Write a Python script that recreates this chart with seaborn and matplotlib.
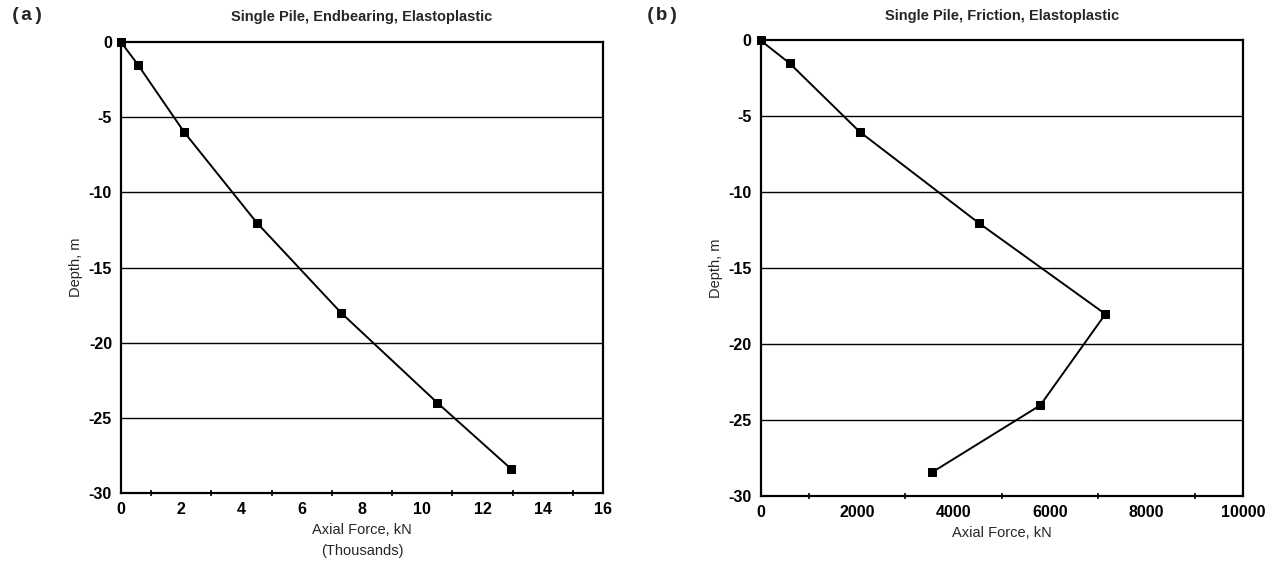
import matplotlib

matplotlib.use("Agg")
import matplotlib.pyplot as plt
import numpy as np
import pandas as pd
import seaborn as sns
from matplotlib.ticker import MultipleLocator

# depth of the sampled pile sections (m)
depth = [0, -1.5, -6, -12, -18, -24, -28.4]

# (a) end bearing pile, axial force in thousands of kN
force_endbearing = [0, 0.56, 2.1, 4.5, 7.3, 10.5, 12.95]
# (b) friction pile, axial force in kN
force_friction = [0, 600, 2050, 4520, 7150, 5800, 3560]

titles = ["Single Pile, Endbearing, Elastoplastic", "Single Pile, Friction, Elastoplastic"]
panel_tags = ["(a)", "(b)"]
xlabels = ["Axial Force, kN\n(Thousands)", "Axial Force, kN"]
y_ticks = [0, -5, -10, -15, -20, -25, -30]

sns.set_theme(style="white")
plt.rcParams["font.family"] = ["Liberation Sans", "DejaVu Sans"]
plt.rcParams["font.weight"] = "bold"
plt.rcParams["axes.unicode_minus"] = False

fig = plt.figure(figsize=(12.77, 5.70), dpi=100)
ax_a = fig.add_axes([0.0948, 0.135, 0.3775, 0.791])
ax_b = fig.add_axes([0.5957, 0.129, 0.3775, 0.800])

frames = [
    pd.DataFrame({"force": force_endbearing, "depth": depth}),
    pd.DataFrame({"force": force_friction, "depth": depth}),
]
xlims = [(0, 16), (0, 10000)]
xmajor = [2, 2000]
xminor = [1, 1000]

for ax, df, title, tag, xlabel, xlim, mj, mn in zip(
    [ax_a, ax_b], frames, titles, panel_tags, xlabels, xlims, xmajor, xminor
):
    ax.grid(False)
    for yv in y_ticks[1:-1]:
        ax.axhline(yv, color="black", lw=1.0, zorder=1)
    sns.lineplot(
        data=df, x="force", y="depth", sort=False, estimator=None,
        color="black", lw=1.4, marker="s", markersize=6,
        markeredgecolor="black", markerfacecolor="black", ax=ax, zorder=3,
        clip_on=False,
    )
    ax.set_xlim(*xlim)
    ax.set_ylim(-30, 0)
    ax.set_yticks(y_ticks)
    ax.xaxis.set_major_locator(MultipleLocator(mj))
    ax.xaxis.set_minor_locator(MultipleLocator(mn))
    ax.tick_params(axis="both", which="major", direction="inout", length=7, width=1.3,
                   colors="black", labelsize=11.5, pad=3)
    ax.tick_params(axis="x", which="minor", direction="inout", length=5, width=1.2,
                   colors="black", bottom=True)
    ax.tick_params(axis="y", which="minor", left=False)
    for lbl in ax.get_xticklabels() + ax.get_yticklabels():
        lbl.set_fontweight("bold")
    for sp in ax.spines.values():
        sp.set_color("black")
        sp.set_linewidth(1.6)
    ax.set_title(title, fontsize=10.5, fontweight="bold", pad=15)
    ax.set_xlabel(xlabel, fontsize=10.5, fontweight="normal", labelpad=4, linespacing=1.7)
    ax.set_ylabel("Depth, m", fontsize=10.5, fontweight="normal", labelpad=4)

fig.text(0.008, 0.973, panel_tags[0], fontsize=14, family="Liberation Mono", va="center")
fig.text(0.505, 0.973, panel_tags[1], fontsize=14, family="Liberation Mono", va="center")

fig.savefig("out.png", dpi=100)
plt.close(fig)
